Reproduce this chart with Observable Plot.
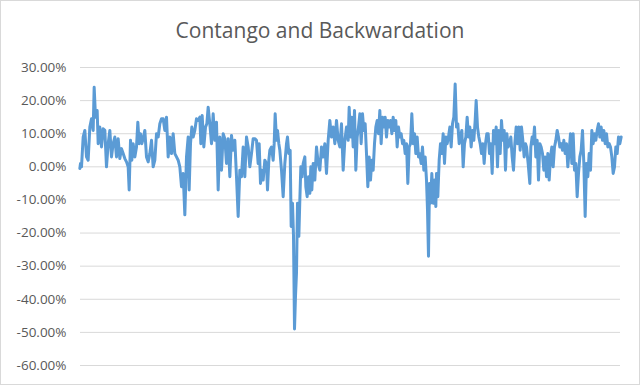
<!DOCTYPE html>
<html>
<head>
<meta charset="utf-8">
<script src="https://cdn.jsdelivr.net/npm/d3@7"></script>
<script src="https://cdn.jsdelivr.net/npm/@observablehq/plot@0.6"></script>
<style>
  html, body { margin: 0; padding: 0; background: #fff; }
  #wrap { position: relative; width: 640px; height: 385px; overflow: hidden; background: #fff; }
  #title { position: absolute; left: 0; top: 20px; width: 640px; text-align: center;
           font-family: "Open Sans", sans-serif; font-size: 21px; line-height: 21px; color: #595959; }
  #plot { position: absolute; left: 0; top: 50px; }
  #border { position: absolute; left: 0; top: 0; width: 640px; height: 385px; box-sizing: border-box;
            border: 1px solid #d9d9d9; pointer-events: none; }
</style>
</head>
<body>
<div id="wrap">
  <div id="title">Contango and Backwardation</div>
  <div id="plot"></div>
  <div id="border"></div>
</div>
<script>
// Time index (trading-day position) and contango/backwardation value in percent
const days = [
  1,3,6,11,16,21,26,31,36,41, 44,48,53,56,61,66,71,76,81,86, 91,96,101,106,111,116,121,126,131,136,
  141,146,149,153,157,161,166,171,175,179, 183,187,191,196,201,206,211,216,221,226, 231,236,241,246,251,256,
  261,266,271,276,281,286,291,296,301,306, 311,316,321,326,329,333,337,341,346,351, 356,361,364,368,373,378,382,386,391,396,
  401,406,411,416,421,426,431,436,441,446, 451,456,461,466,471,476,481,486,491,496, 501,506,511,516,521,526,
  531,536,539,543,547,551,556,561,564,568, 571,576,581,584,587,591,594,598,601,606, 611,616,621,624,628,632,635,639,642,645,
  648,651,654,658,661,664,668,671,676,679, 683,687,691,694,697,701,706,711,716,721, 726,731,736,741,746,751,756,761,766,771,
  776,781,786,791,796,
  801,806,809,813,817,821,825,829,833,837, 841,845,849,853,857,861,865,869,873,877, 881,885,889,893,897,901,905,909,913,917,
  921,925,929,933,937,941,945,949,953,957, 961,965,969,973,977,981,985,989,993,997, 1001,1005,1009,1013,1017,1021,1025,1029,1033,1037,
  1041,1044,1047,1050,1053,1057,1061,1065,1069,
  1071,1075,1079,1083,1087,1091,1095,1099,1103,1107, 1111,1115,1119,1123,1127,1131,1135,1139,1143,1147, 1151,1155,1159,1163,1167,1171,1175,1179,1183,1187,
  1190,1194,1198,1202,1206,1210,1214,1218,1222,1226, 1230,1234,1238,1242,1246,1250,1254,1258,1262,1266, 1270,1274,1278,1282,1286,1290,1294,1298,1302,1306,
  1310,1314,1318,1322,1326,1330,1334,1338,
  1341,1346,1351,1354,1358,1361,1365,1369,1373,1377, 1381,1385,1389,1393,1397,1401,1405,1409,1413,1417, 1421,1425,1429,1433,1437,1441,1445,1449,1453,1457,
  1461,1465,1469,1473,1477,1481,1485,1489,1493,1497, 1501,1505,1509,1513,1517,1521,1525,1529,1533,1537, 1541,1545,1549,1553,1557,1561,1565,1569,1573,1577,
  1581,1585,1589,1593,1597,1601,1605,1609,1613,1617, 1621,1625
];
const contango = [
  -0.5,1,0,9,11,3,2,12,14.5,11, 24,15,17,7,12,6,11.5,11,0,7, 11,3,7,9,3,8.5,2.5,5.5,4,2.5,
  1.5,0,-7,8,2,7,3,6,13.5,7, 10,7,8.5,11,3,1.5,4,8,0,2, 10,9,13,14.5,14.5,11,
  15,3,9,4,10,4,3,2,0,-6, -2,-14.5,3,9,-7,7,12,9,11,14.5, 14,15,7,15.5,6,12,13,18,13,7,
  16,8,13.5,-7,9,-1,10,8.5,1,8.5, -3,9.5,5,8,-3,-15,-1,-3,6,-3, 9,6,0,4,8.5,8.5,
  8,1,7,-5,-1,-4,2,1,-7,2, 5,6,2,7,16,8,11,7,5,-1, -9,1,7,9,4,5,-18,-11,-21,-49,
  -39,-32,-11,-21,-10,0,-3,1,3,-6, -9,-3,-8,0,-7,1,-4,6,1,-1, 6,3,7,-2,8,14,9,12,7,14,
  8,6,13,-1,8,
  12,8,18,9,15,6,17,-1,9,12, 16,7,16,11,13,4,-6,3,-4,2, -1,7,12,14,10,17,7,15,12,15,
  9,14,12,14,10,15,11,14,6,12, 9,10,7,8,4,7,-5,6,7,16, 7,10,4,9,3,4,1,6,-1,3,
  -4,-13,-27,-5,-11,-2,-11,-4,-12,
  -2,-9,2,7,4,10,1,9,7,9, 12,6,13,15,25,12,13,7,9,11, 0,7,9,15,9,12,6,11,8,14,
  20,12,9,7,4,7,1,7,10,10, 4,7,-2,11,7,12,0,11,4,14, 8,11,-1,10,6,7,9,3,-1,7,
  12,7,12,5,12,8,3,7,
  6,1,-5,6,9,7,12,3,8,-4, 7,6,4,-1,3,-3,4,-4,3,6, 0,6,8,11,9,6,7,5,8,4,
  7,0,5,10,1,10,-1,1,-9,-2, 3,5,11,1,-15,1,-3,4,-1,11, 7,10,8,11,13,9,12,8,11,7,
  10,6,7,6,3,-2,0,6,4,9, 7,9
];
const yTicks = [30, 20, 10, 0, -10, -20, -30, -40, -50, -60];

const data = days.map((d, i) => ({day: d, value: contango[i]}));
const fmt = d => d.toFixed(2) + "%";

const chart = Plot.plot({
  width: 640,
  height: 335,
  marginLeft: 80,
  marginRight: 20,
  marginTop: 17,
  marginBottom: 20,
  style: {background: "transparent", fontFamily: "Open Sans, sans-serif", fontSize: "13.5px", color: "#595959"},
  x: {domain: [3, 1623], axis: null},
  y: {domain: [-60, 30], axis: null},
  marks: [
    Plot.gridY(yTicks, {stroke: "#d9d9d9", strokeOpacity: 1, strokeWidth: 1}),
    Plot.axisY(yTicks, {tickSize: 0, tickPadding: 14, tickFormat: fmt, fill: "#595959", fontSize: 13.5, label: null}),
    Plot.lineY(data, {x: "day", y: "value", stroke: "#5B9BD5", strokeWidth: 3, strokeLinejoin: "round", strokeLinecap: "round"})
  ]
});
document.getElementById("plot").appendChild(chart);
</script>
</body>
</html>
